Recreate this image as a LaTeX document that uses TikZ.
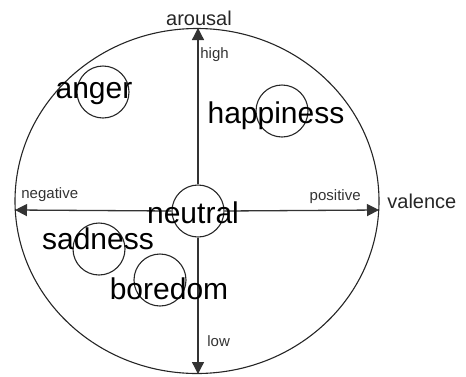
\documentclass[tikz,border=0pt]{standalone}
\usepackage{fontspec}
\setmainfont{Liberation Sans}
\usetikzlibrary{arrows.meta,positioning}

\begin{document}
\begin{tikzpicture}[x=0.5pt,y=-0.5pt,
  emo/.style={circle,draw=black!85,line width=0.55pt,minimum size=26pt,inner sep=0pt},
  big/.style={font=\fontsize{15}{15}\selectfont,inner sep=0pt},
  ax/.style={font=\fontsize{10}{10}\selectfont,text=black!85,inner sep=0pt},
  tag/.style={font=\fontsize{7.5}{7.5}\selectfont,text=black!80,inner sep=0pt},
  ar/.style={draw=black!80,line width=0.65pt,-{Triangle[length=6pt,width=6pt]}}]
 \useasboundingbox (0,0) rectangle (466,376);
 \draw[black!85,line width=0.55pt] (197,201) ellipse [x radius=182,y radius=172.5];
 % emotion circles
 \node[emo] (neu) at (198,211) {};
 \node[emo] (ang) at (103,92) {};
 \node[emo] (hap) at (282,111) {};
 \node[emo] (sad) at (99,249) {};
 \node[emo] (bor) at (160,280) {};
 % axis ends
 \coordinate (top) at (198,28);
 \coordinate (bot) at (198,374);
 \coordinate (lft) at (15,210);
 \coordinate (rgt) at (379,210);
 \draw[ar] (neu.north) -- (top);
 \draw[ar] (neu.south) -- (bot);
 \draw[ar] (neu.west) -- (lft);
 \draw[ar] (neu.east) -- (rgt);
 % axis labels
 \node[ax] (aro) at (199,18) {arousal};
 \node[ax,anchor=west] (val) at (387,201) {valence};
 \node[tag,anchor=west] (hi) at (200,55) {high};
 \node[tag,anchor=west] (lo) at (207,341) {low};
 \node[tag,anchor=west] (neg) at (21,195) {negative};
 \node[tag,anchor=east] (pos) at (361,197) {positive};
 % emotion words
 \node[big] at (94,94) {anger};
 \node[big] at (276,116) {happiness};
 \node[big] at (193,213) {neutral};
 \node[big] at (98,239) {sadness};
 \node[big] at (169,289) {boredom};
\end{tikzpicture}
\end{document}
